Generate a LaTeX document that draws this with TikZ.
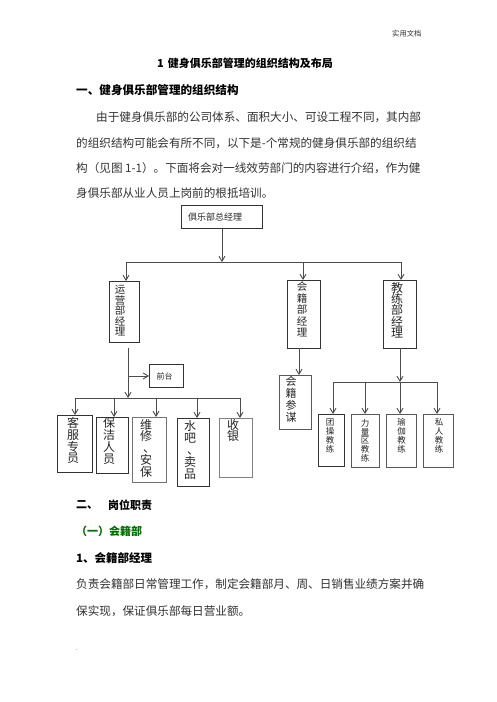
\documentclass[tikz,border=0pt]{standalone}
\usepackage{fontspec}
\newfontfamily\cjk{Noto Sans CJK SC}
\usetikzlibrary{arrows.meta}
\definecolor{hgreen}{RGB}{0,112,0}
\definecolor{bodyc}{RGB}{50,50,50}
\newcommand\vdun{\kern6pt 、}
\tikzset{
  body/.style={anchor=west,inner sep=0,text=bodyc,font=\cjk\fontsize{11.6}{12}\selectfont},
  head/.style={anchor=west,inner sep=0,font=\cjk\bfseries\fontsize{11.6}{12}\selectfont},
  orgbox/.style={draw=black!80,line width=0.9pt,inner sep=0,anchor=north west,fill=white},
  vt/.style={anchor=north,inner sep=0,align=center,text=black!85},
  conn/.style={draw=black!70,line width=0.9pt},
  arr/.style={conn,-{Straight Barb[length=5pt,width=6pt]}},
}
\begin{document}
\begin{tikzpicture}[x=1pt,y=-1pt]
\useasboundingbox[fill=white] (0,0) rectangle (496,702);
% ---- page text ----
\node[anchor=west,inner sep=0,text=bodyc,font=\cjk\fontsize{7.3}{8}\selectfont] (hdr) at (392,34) {实用文档};
\node[head,font=\cjk\bfseries\fontsize{11}{12}\selectfont] (title) at (157,63) {1\hspace{4pt}健身俱乐部管理的组织结构及布局};
\node[head] (h1) at (76,90) {一、健身俱乐部管理的组织结构};
\node[body] (p1) at (96,117) {由于健身俱乐部的公司体系、面积大小、可设工程不同，其内部};
\node[body] (p2) at (76,143) {的组织结构可能会有所不同，以下是-个常规的健身俱乐部的组织结};
\node[body] (p3) at (76,168.5) {构（见图 1-1）。下面将会对一线效劳部门的内容进行介绍，作为健};
\node[body] (p4) at (76,193) {身俱乐部从业人员上岗前的根抵培训。};
% ---- chart boxes ----
\node[orgbox,minimum width=81pt,minimum height=23pt] (gm) at (181,205) {};
\node[anchor=west,inner sep=0,font=\cjk\fontsize{9}{9}\selectfont,text=black!85] (gmt) at (188,217) {俱乐部总经理};
\node[orgbox,minimum width=30pt,minimum height=61pt] (yy) at (109,281) {};
\node[orgbox,minimum width=33pt,minimum height=68pt] (hj) at (287,280) {};
\node[orgbox,minimum width=33pt,minimum height=68pt] (jl) at (383,280) {};
\node[orgbox,minimum width=34pt,minimum height=23pt] (qt) at (149,364) {};
\node[orgbox,minimum width=35pt,minimum height=57pt] (kf) at (57,415) {};
\node[orgbox,minimum width=32pt,minimum height=56pt] (bj) at (96,417) {};
\node[orgbox,minimum width=34pt,minimum height=65pt,draw=black!55] (wx) at (132,417) {};
\node[orgbox,minimum width=32pt,minimum height=68pt] (sb) at (177,418) {};
\node[orgbox,minimum width=33pt,minimum height=59pt,draw=black!50] (sy) at (219,418) {};
\node[orgbox,minimum width=32pt,minimum height=54pt,draw=black!65] (hc) at (279,375) {};
\node[orgbox,minimum width=26pt,minimum height=52pt] (tc) at (318,414) {};
\node[orgbox,minimum width=28pt,minimum height=53pt,draw=black!65] (ll) at (351,414) {};
\node[orgbox,minimum width=30pt,minimum height=53pt,draw=black!65] (yj) at (386,414) {};
\node[orgbox,minimum width=30pt,minimum height=53pt,draw=black!65] (sr) at (423,414) {};
% ---- box texts ----
\node[vt,font=\cjk\fontsize{10.5}{10.6}\selectfont] (yyt) at (120,285) {运\\营\\部\\经\\理};
\node[vt,font=\cjk\fontsize{10.5}{11.6}\selectfont] (hjt) at (302,281.5) {会\\籍\\部\\经\\理};
\node[vt,font=\cjk\fontsize{12}{11.3}\selectfont] (jlt) at (397,282) {教\\练\\部\\经\\理};
\node[anchor=center,inner sep=0,font=\cjk\fontsize{8}{8}\selectfont,text=black!85] (qtt) at (164.5,376) {前台};
\node[vt,font=\cjk\fontsize{12}{11.7}\selectfont] (kft) at (73,417.5) {客\\服\\专\\员};
\node[vt,font=\cjk\fontsize{12}{12}\selectfont] (bjt) at (109,417.5) {保\\洁\\人\\员};
\node[vt,font=\cjk\fontsize{12}{11.7}\selectfont] (wxt) at (146,419) {维\\修\\\vdun\\安\\保};
\node[vt,font=\cjk\fontsize{12}{12}\selectfont] (sbt) at (190,420.7) {水\\吧\\\vdun\\卖\\品};
\node[vt,font=\cjk\fontsize{12}{11.7}\selectfont] (syt) at (233,419) {收\\银};
\node[vt,font=\cjk\fontsize{11}{11.7}\selectfont] (hct) at (291,376.5) {会\\籍\\参\\谋};
\node[vt,font=\cjk\fontsize{8.5}{9}\selectfont] (tct) at (330,419) {团\\操\\教\\练};
\node[vt,font=\cjk\fontsize{8.5}{8.8}\selectfont] (llt) at (365,419) {力\\量\\区\\教\\练};
\node[vt,font=\cjk\fontsize{8.5}{8.8}\selectfont] (yjt) at (401.7,418.5) {瑜\\伽\\教\\练};
\node[vt,font=\cjk\fontsize{8.5}{8.8}\selectfont] (srt) at (439,418.5) {私\\人\\教\\练};
% ---- connectors ----
\coordinate (hL) at (126,262);
\coordinate (hM) at (303,262);
\coordinate (hR) at (401,262);
\draw[conn] (hL) -- (hR);
\draw[arr] (gm.south) -- (gm.south |- hL);
\draw[arr] (hL) -- (hL |- yy.north);
\draw[arr] (hM) -- (hM |- hj.north);
\draw[arr] (hR) -- (hR |- jl.north);
% operations
\coordinate (ys) at (128,348);
\coordinate (yb) at (128,398);
\draw[arr] (ys) -- (yb);
\draw[arr] (ys |- qt.west) -- (qt.west);
\coordinate (bL) at (75,398);
\coordinate (bR) at (240,398);
\draw[conn] (bL) -- (bR);
\foreach \x/\n in {75/kf,114/bj,156/wx,197/sb,240/sy}{
  \coordinate (c\n) at (\x,398);
  \draw[arr] (c\n) -- (c\n |- \n.north);
}
% membership
\coordinate (hs) at (299,348);
\draw[arr] (hs) -- (hs |- hc.north);
% coaching
\coordinate (js) at (400,348);
\coordinate (jh) at (400,382);
\draw[arr] (js) -- (jh);
\coordinate (jL) at (333,382);
\coordinate (jR) at (437,382);
\draw[conn] (jL) -- (jR);
\foreach \x/\n in {333/tc,365/ll,400/yj,437/sr}{
  \coordinate (d\n) at (\x,382);
  \draw[arr] (d\n) -- (d\n |- \n.north);
}
% ---- lower text ----
\node[head,font=\cjk\bfseries\fontsize{11}{12}\selectfont] (h2a) at (76,505) {二、};
\node[head,font=\cjk\bfseries\fontsize{11}{12}\selectfont] (h2b) at (108,505) {岗位职责};
\node[head,font=\cjk\bfseries\fontsize{11}{12}\selectfont,text=hgreen] (h3) at (76,531.7) {（一）会籍部};
\node[head,font=\cjk\bfseries\fontsize{11.5}{12}\selectfont] (h4) at (76,557.7) {1、会籍部经理};
\node[body] (q1) at (76,584.3) {负责会籍部日常管理工作，制定会籍部月、周、日销售业绩方案并确};
\node[body] (q2) at (76,610.7) {保实现，保证俱乐部每日营业额。};
\node[anchor=west,inner sep=0,font=\cjk\fontsize{6}{6}\selectfont,text=bodyc] (dot) at (76,650) {.};
\end{tikzpicture}
\end{document}
